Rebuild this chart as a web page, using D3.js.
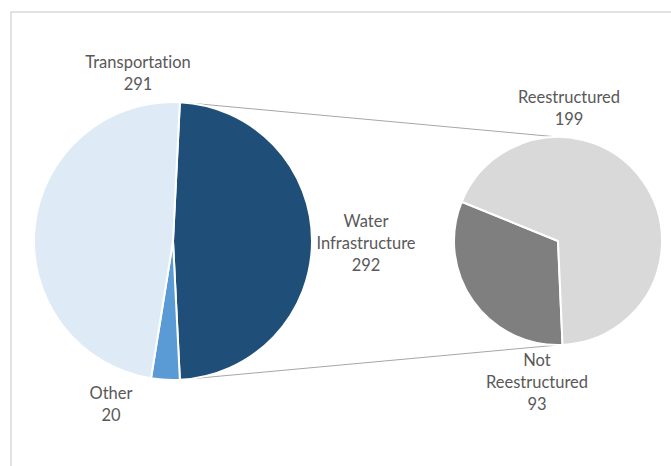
<!DOCTYPE html>
<html>
<head>
<meta charset="utf-8">
<script src="https://cdn.jsdelivr.net/npm/d3@7"></script>
<style>
  html, body { margin: 0; padding: 0; background: #fff; }
  svg { display: block; }
  text { font-family: Lato, "Open Sans", sans-serif; fill: #595959; font-variant-ligatures: none; }
</style>
</head>
<body>
<svg id="chart" width="671" height="466"></svg>
<script>
// Main pie: project categories
const mainCategories = ["Water Infrastructure", "Other", "Transportation"];
const mainValues = [292, 20, 291];
const mainLabelLines = [["Water", "Infrastructure", "292"], ["Other", "20"], ["Transportation", "291"]];
const mainColors = ["#1F4E79", "#5B9BD5", "#DEEBF7"];

// Secondary pie: breakdown of Water Infrastructure
const subCategories = ["Not Reestructured", "Reestructured"];
const subValues = [93, 199];
const subLabelLines = [["Not", "Reestructured", "93"], ["Reestructured", "199"]];
const subColors = ["#7F7F7F", "#D9D9D9"];

const W = 671, H = 466;
const svg = d3.select("#chart");

// chart area frame
svg.append("rect")
  .attr("x", 11).attr("y", 12)
  .attr("width", W + 20).attr("height", H + 20)
  .attr("fill", "none").attr("stroke", "#D9D9D9").attr("stroke-width", 1.5);

const main = { cx: 173, cy: 241, r: 139 };
const sub = { cx: 558, cy: 241, r: 104 };
const deg = Math.PI / 180;

// split slice centred on 3 o'clock
const total = d3.sum(mainValues);
const splitSpan = 2 * Math.PI * mainValues[0] / total;
const mainPie = d3.pie().sort(null).value(d => d)
  .startAngle(Math.PI / 2 - splitSpan / 2)
  .endAngle(Math.PI / 2 - splitSpan / 2 + 2 * Math.PI);
const mainArcs = mainPie(mainValues);

const subPie = d3.pie().sort(null).value(d => d)
  .startAngle(177.5 * deg).endAngle(177.5 * deg + 2 * Math.PI);
const subArcs = subPie(subValues);

// connector lines from the split slice edges to the top/bottom of the secondary pie
const pt = (c, a) => [c.cx + c.r * Math.sin(a), c.cy - c.r * Math.cos(a)];
const splitArc = mainArcs[0];
const connectors = [
  [pt(main, splitArc.startAngle), [sub.cx, sub.cy - sub.r]],
  [pt(main, splitArc.endAngle), [sub.cx, sub.cy + sub.r]]
];
svg.append("g").selectAll("line").data(connectors).join("line")
  .attr("x1", d => d[0][0]).attr("y1", d => d[0][1])
  .attr("x2", d => d[1][0]).attr("y2", d => d[1][1])
  .attr("stroke", "#A6A6A6").attr("stroke-width", 1);

const mainArc = d3.arc().innerRadius(0).outerRadius(main.r);
svg.append("g").attr("transform", `translate(${main.cx},${main.cy})`)
  .selectAll("path").data(mainArcs).join("path")
  .attr("d", mainArc)
  .attr("fill", (d, i) => mainColors[i])
  .attr("stroke", "#fff").attr("stroke-width", 2).attr("stroke-linejoin", "round");

const subArc = d3.arc().innerRadius(0).outerRadius(sub.r);
svg.append("g").attr("transform", `translate(${sub.cx},${sub.cy})`)
  .selectAll("path").data(subArcs).join("path")
  .attr("d", subArc)
  .attr("fill", (d, i) => subColors[i])
  .attr("stroke", "#fff").attr("stroke-width", 2).attr("stroke-linejoin", "round");

// data labels: anchor x and first baseline
const mainLabelPos = [[366, 226.5], [111, 399], [138, 68]];
const subLabelPos = [[537, 366], [569, 103]];
const lineH = 22;

function drawLabels(lines, pos) {
  const g = svg.append("g");
  lines.forEach((ls, i) => {
    const t = g.append("text")
      .attr("text-anchor", "middle")
      .attr("font-size", 16.5);
    ls.forEach((s, j) => {
      t.append("tspan").attr("x", pos[i][0]).attr("y", pos[i][1] + j * lineH).text(s);
    });
  });
}
drawLabels(mainLabelLines, mainLabelPos);
drawLabels(subLabelLines, subLabelPos);
</script>
</body>
</html>
